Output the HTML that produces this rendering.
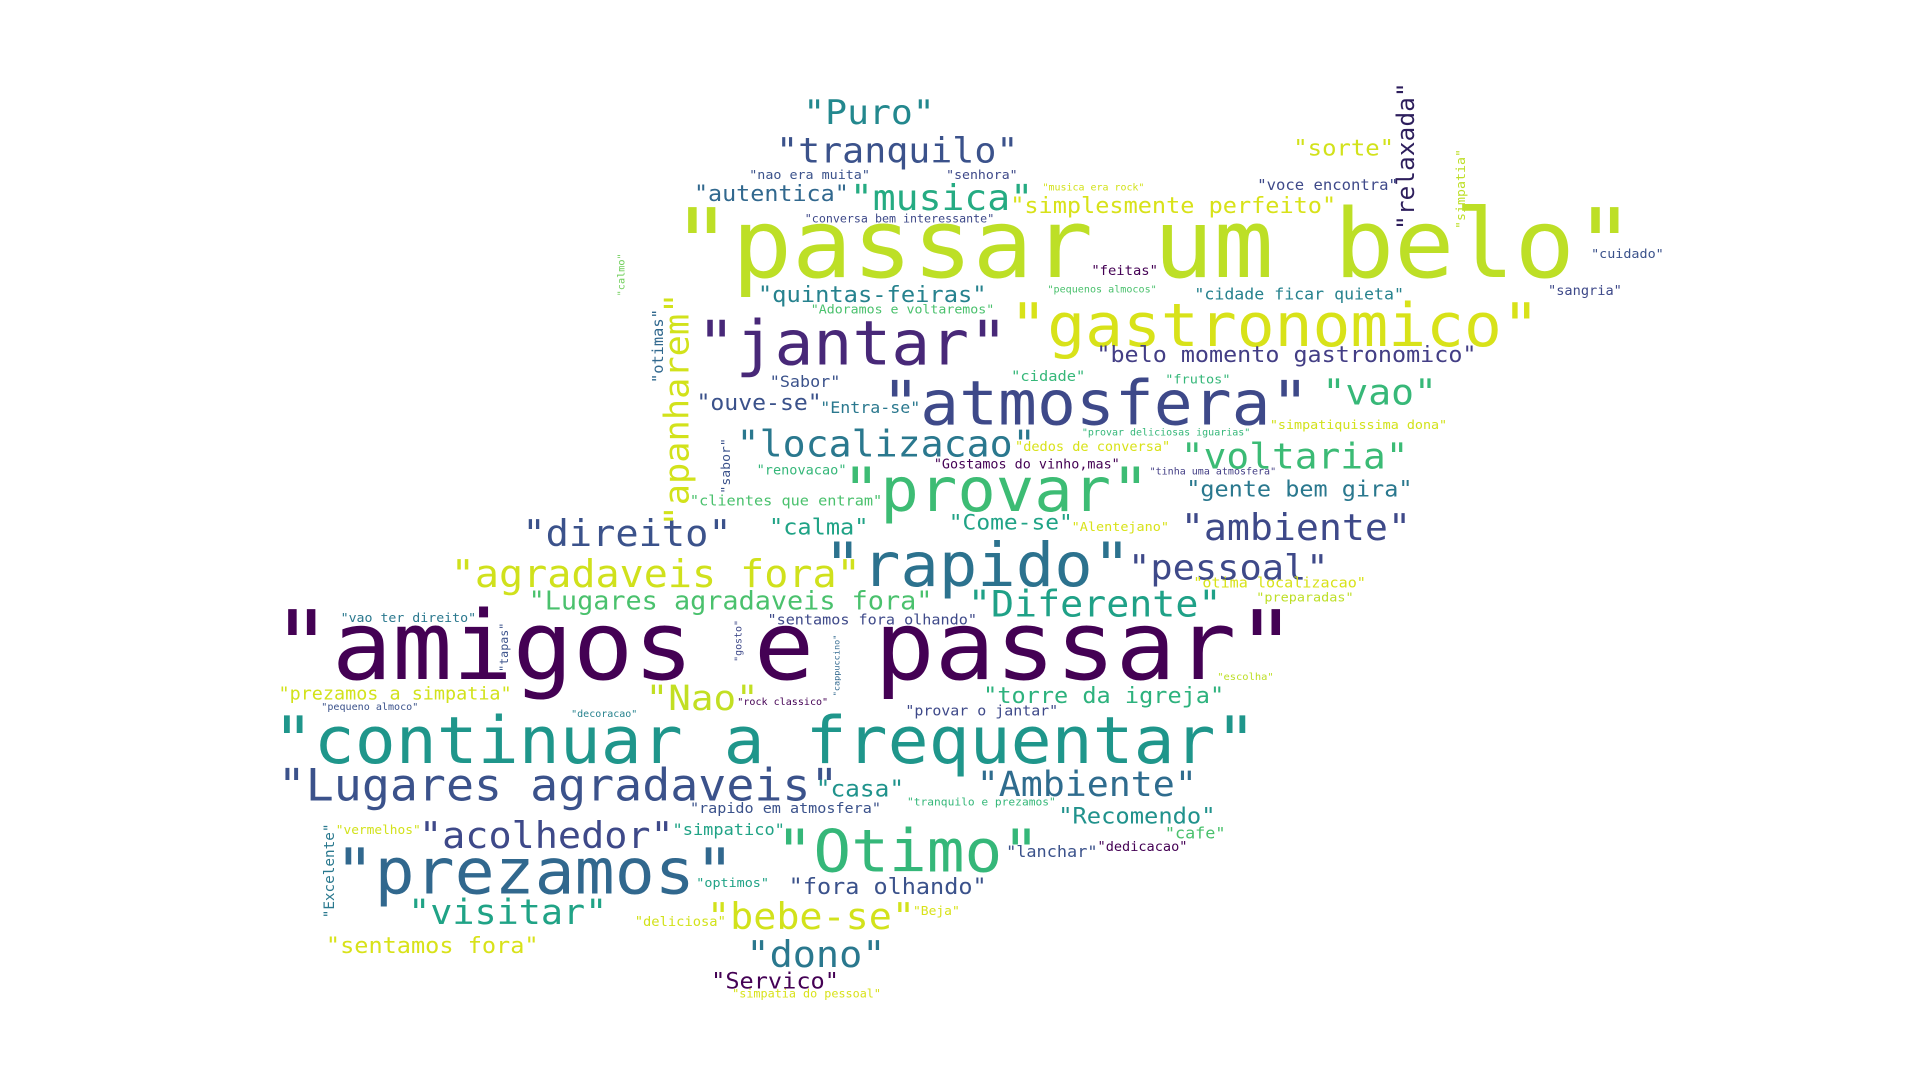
<!DOCTYPE html>
<html><head><meta charset="utf-8"><style>
html,body{margin:0;padding:0;background:#fff;width:1920px;height:1080px;overflow:hidden}
svg text{font-family:"DejaVu Sans Mono","Liberation Mono",monospace}
</style></head><body>
<svg id="cloud" width="1920" height="1080" viewBox="0 0 1560 877.5" xmlns="http://www.w3.org/2000/svg">
<rect width="1560" height="877.5" fill="#fff"/>
</svg>
<script>
// word, x-left, x-right, baseline, color
const words = [
["passar um belo",555,1330,228,"#bddf26"],
["gastronomico",826,1252,283,"#d8e219"],
["jantar",572,820,298,"#482878"],
["atmosfera",722,1065,347,"#3e4989"],
["amigos e passar",230,1055,555,"#440154"],
["continuar a frequentar",228,1022,622,"#1f968b"],
["Lugares agradaveis",230,682,652,"#3b528b"],
["prezamos",278,598,728,"#31688e"],
["Otimo",636,846,710,"#35b779"],
["rapido",675,920,478,"#2c728e"],
["provar",690,935,417,"#3dbc74"],
["localizacao",602,842,372,"#2a788e"],
["voltaria",963,1145,382,"#3bbb75"],
["vao",1078,1168,330,"#37b878"],
["ambiente",963,1147,440,"#3e4989"],
["pessoal",920,1080,472,"#3e4989"],
["Diferente",790,993,502,"#1fa187"],
["agradaveis fora",370,700,478,"#d0e11c"],
["direito",428,595,445,"#3b528b"],
["Lugares agradaveis fora",432,758,496,"#4ac16d"],
["acolhedor",344,548,690,"#3e4989"],
["visitar",335,494,752,"#20a386"],
["bebe-se",578,744,756,"#d2e21b"],
["dono",610,720,787,"#2a788e"],
["Servico",580,682,804,"#440154"],
["sentamos fora",267,438,775,"#d8e219"],
["fora olhando",643,802,727,"#3b528b"],
["Ambiente",797,973,648,"#2f6c8e"],
["Recomendo",862,988,670,"#20928c"],
["torre da igreja",801,995,572,"#2db27d"],
["Nao",528,617,578,"#c2df23"],
["prezamos a simpatia",228,416,569,"#d2e21b"],
["casa",665,735,648,"#20938c"],
["Puro",656,760,102,"#23888e"],
["tranquilo",634,828,133,"#3b528b"],
["musica",694,840,172,"#25ab82"],
["autentica",566,690,164,"#31688e"],
["simplesmente perfeito",823,1086,174,"#d8e219"],
["quintas-feiras",618,802,246,"#26828e"],
["belo momento gastronomico",893,1200,295,"#433e85"],
["ouve-se",568,668,334,"#3b528b"],
["gente bem gira",966,1148,404,"#2a788e"],
["calma",627,706,435,"#20a386"],
["Come-se",773,872,431,"#20a386"],
["sorte",1053,1133,127,"#d2e21b"],
["voce encontra",1023,1136,155,"#3e4989"],
["nao era muita",610,707,146,"#3b528b"],
["senhora",770,827,146,"#3e4989"],
["conversa bem interessante",655,808,181,"#3e4989"],
["musica era rock",848,930,155,"#d2e21b"],
["feitas",888,941,224,"#440154"],
["pequenos almocos",852,940,238,"#4ac16d"],
["cidade ficar quieta",972,1141,244,"#26828e"],
["cuidado",1294,1352,210,"#3b528b"],
["sangria",1259,1318,240,"#3e4989"],
["Adoramos e voltaremos",660,808,255,"#4ac16d"],
["Sabor",627,683,315,"#3b528b"],
["cidade",823,882,310,"#35b779"],
["frutos",948,1000,312,"#35b779"],
["Entra-se",668,748,336,"#2a788e"],
["provar deliciosas iguarias",880,1016,354,"#35b779"],
["simpatiquissima dona",1033,1176,349,"#d2e21b"],
["dedos de conversa",826,951,367,"#d8e219"],
["renovacao",616,688,386,"#35b779"],
["Gostamos do vinho,mas",760,910,381,"#440154"],
["tinha uma atmosfera",935,1037,386,"#433e85"],
["clientes que entram",562,717,411,"#4ac16d"],
["Alentejano",872,950,432,"#d8e219"],
["otima localizacao",971,1110,478,"#d8e219"],
["preparadas",1022,1100,489,"#bddf26"],
["vao ter direito",278,387,506,"#2a788e"],
["sentamos fora olhando",625,794,508,"#3e4989"],
["escolha",990,1035,553,"#bddf26"],
["pequeno almoco",262,340,577,"#3b528b"],
["rock classico",600,673,573,"#440154"],
["decoracao",465,518,583,"#26828e"],
["provar o jantar",737,860,582,"#3e4989"],
["rapido em atmosfera",562,716,661,"#3b528b"],
["tranquilo e prezamos",738,858,655,"#35b779"],
["vermelhos",274,342,678,"#d2e21b"],
["simpatico",548,638,679,"#20a386"],
["cafe",948,996,682,"#4ac16d"],
["lanchar",819,892,697,"#3b528b"],
["dedicacao",893,965,692,"#440154"],
["optimos",567,625,721,"#20a386"],
["deliciosa",517,590,753,"#d2e21b"],
["Beja",743,780,744,"#d8e219"],
["simpatia do pessoal",596,716,811,"#d8e219"]
];
// vertical words: word, x-center, y-top, y-bottom, color
const vwords = [
["relaxada",1143,65,185,"#2d1e5c"],
["apanharem",551,235,425,"#d2e21b"],
["otimas",535,250,310,"#31688e"],
["simpatia",1187,120,185,"#bddf26"],
["calmo",505,205,240,"#6ece58"],
["sabor",590,355,400,"#3b528b"],
["tapas",410,505,545,"#3b528b"],
["gosto",600,503,537,"#3e4989"],
["cappuccino",680,515,565,"#31688e"],
["Excelente",268,668,745,"#2a788e"]
];
const svg = document.getElementById('cloud');
const NS = 'http://www.w3.org/2000/svg';
words.forEach(w => {
  const s = '"' + w[0] + '"';
  const width = w[2] - w[1];
  const size = width / (s.length * 0.625);
  const t = document.createElementNS(NS, 'text');
  
  
  t.setAttribute('x', (w[1] - size * 0.12).toFixed(2));
  t.setAttribute('y', (w[3] - size * 0.04).toFixed(2));
  t.setAttribute('font-size', size.toFixed(2));
  t.setAttribute('fill', w[4]);
  t.setAttribute('textLength', width + size * 0.1);
  t.setAttribute('lengthAdjust', 'spacingAndGlyphs');
  t.textContent = s;
  svg.appendChild(t);
});
vwords.forEach(w => {
  const s = '"' + w[0] + '"';
  const len = w[3] - w[2];
  const size = len / (s.length * 0.625);
  const t = document.createElementNS(NS, 'text');
  
  
  t.setAttribute('transform', 'translate(' + (w[1] + size * 0.3).toFixed(2) + ',' + (w[3] + size * 0.1).toFixed(2) + ') rotate(-90)');
  t.setAttribute('x', 0);
  t.setAttribute('y', 0);
  t.setAttribute('font-size', size.toFixed(2));
  t.setAttribute('fill', w[4]);
  t.setAttribute('textLength', len);
  t.setAttribute('lengthAdjust', 'spacingAndGlyphs');
  t.textContent = s;
  svg.appendChild(t);
});
</script>
</body></html>
